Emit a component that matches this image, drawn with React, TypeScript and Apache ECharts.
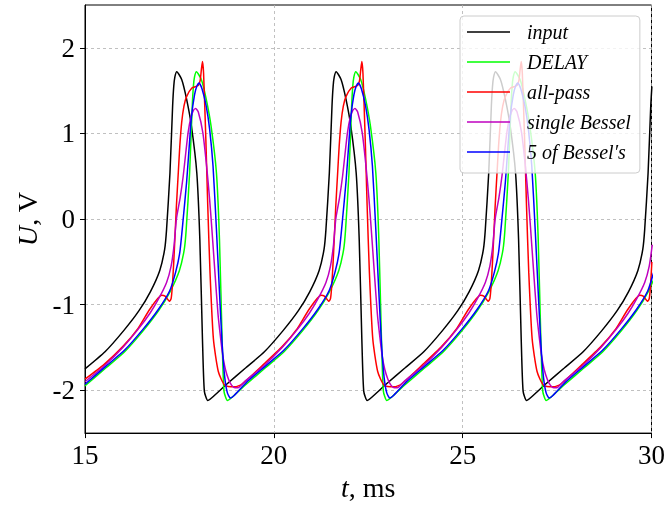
import React, { useEffect, useRef } from 'react';
import * as echarts from 'echarts';

const seriesNames = ['input', 'DELAY', 'all-pass', 'single Bessel', '5 of Bessel′s'];
const seriesColors = ['#000000', '#00ff00', '#ff0000', '#bf00bf', '#0000ff'];
const yLabelValues = [-2, -1, 0, 1, 2];

// t (ms), U (V)
const inputData: [number, number][] = [
  [15.0, -1.75], [15.53, -1.55], [16.03, -1.30], [16.43, -1.07], [16.73, -0.85], [16.98, -0.60], [17.11, -0.35], [17.16, -0.12],
  [17.25, 0.54], [17.32, 1.32], [17.35, 1.55], [17.38, 1.66], [17.43, 1.72], [17.56, 1.63], [17.69, 1.40], [17.82, 1.08], [17.96, 0.54],
  [18.04, -0.23], [18.11, -1.40], [18.16, -2.01], [18.25, -2.12], [18.35, -2.09], [18.75, -1.93], [19.25, -1.74], [19.75, -1.55],
  [20.25, -1.30], [20.65, -1.07], [20.95, -0.85], [21.20, -0.60], [21.33, -0.35], [21.38, -0.12], [21.47, 0.54], [21.54, 1.32],
  [21.57, 1.55], [21.60, 1.66], [21.65, 1.72], [21.78, 1.63], [21.91, 1.40], [22.04, 1.08], [22.18, 0.54], [22.26, -0.23], [22.33, -1.40],
  [22.38, -2.01], [22.47, -2.12], [22.57, -2.09], [22.97, -1.93], [23.47, -1.74], [23.97, -1.55], [24.47, -1.30], [24.87, -1.07],
  [25.17, -0.85], [25.42, -0.60], [25.55, -0.35], [25.60, -0.12], [25.69, 0.54], [25.76, 1.32], [25.79, 1.55], [25.82, 1.66],
  [25.87, 1.72], [26.00, 1.63], [26.13, 1.40], [26.26, 1.08], [26.40, 0.54], [26.48, -0.23], [26.55, -1.40], [26.60, -2.01], [26.69, -2.12],
  [26.79, -2.09], [27.19, -1.93], [27.69, -1.74], [28.19, -1.55], [28.69, -1.30], [29.09, -1.07], [29.39, -0.85], [29.64, -0.60],
  [29.77, -0.35], [29.82, -0.12], [29.91, 0.54], [29.98, 1.32], [30.01, 1.55],
];

const delayData: [number, number][] = [
  [15.0, -1.95], [15.05, -1.93], [15.55, -1.74], [16.05, -1.55], [16.55, -1.30], [16.95, -1.07], [17.25, -0.85], [17.50, -0.60],
  [17.63, -0.35], [17.68, -0.12], [17.77, 0.54], [17.84, 1.32], [17.87, 1.55], [17.90, 1.66], [17.95, 1.72], [18.08, 1.63], [18.21, 1.40],
  [18.34, 1.08], [18.48, 0.54], [18.56, -0.23], [18.63, -1.40], [18.68, -2.01], [18.77, -2.12], [18.87, -2.09], [19.27, -1.93],
  [19.77, -1.74], [20.27, -1.55], [20.77, -1.30], [21.17, -1.07], [21.47, -0.85], [21.72, -0.60], [21.85, -0.35], [21.90, -0.12],
  [21.99, 0.54], [22.06, 1.32], [22.09, 1.55], [22.12, 1.66], [22.17, 1.72], [22.30, 1.63], [22.43, 1.40], [22.56, 1.08], [22.70, 0.54],
  [22.78, -0.23], [22.85, -1.40], [22.90, -2.01], [22.99, -2.12], [23.09, -2.09], [23.49, -1.93], [23.99, -1.74], [24.49, -1.55],
  [24.99, -1.30], [25.39, -1.07], [25.69, -0.85], [25.94, -0.60], [26.07, -0.35], [26.12, -0.12], [26.21, 0.54], [26.28, 1.32],
  [26.31, 1.55], [26.34, 1.66], [26.39, 1.72], [26.52, 1.63], [26.65, 1.40], [26.78, 1.08], [26.92, 0.54], [27.00, -0.23], [27.07, -1.40],
  [27.12, -2.01], [27.21, -2.12], [27.31, -2.09], [27.71, -1.93], [28.21, -1.74], [28.71, -1.55], [29.21, -1.30], [29.61, -1.07],
  [29.91, -0.85], [30.16, -0.60],
];

const allPassData: [number, number][] = [
  [15.0, -1.87], [15.5, -1.70], [16.0, -1.49], [16.4, -1.28], [16.72, -1.05], [17.03, -0.89], [17.12, -0.90], [17.24, -0.96],
  [17.28, -0.93], [17.31, -0.80], [17.35, -0.50], [17.38, -0.23], [17.42, 0.15], [17.47, 0.54], [17.51, 0.85], [17.56, 1.13],
  [17.62, 1.32], [17.69, 1.43], [17.83, 1.53], [18.00, 1.56], [18.05, 1.62], [18.08, 1.74], [18.11, 1.84], [18.14, 1.70], [18.20, 0.93],
  [18.25, 0.16], [18.31, -0.62], [18.40, -1.40], [18.53, -1.78], [18.70, -1.94], [18.97, -1.96], [19.15, -1.93], [19.72, -1.70],
  [20.22, -1.49], [20.62, -1.28], [20.94, -1.05], [21.25, -0.89], [21.34, -0.90], [21.46, -0.96], [21.50, -0.93], [21.53, -0.80],
  [21.57, -0.50], [21.60, -0.23], [21.64, 0.15], [21.69, 0.54], [21.73, 0.85], [21.78, 1.13], [21.84, 1.32], [21.91, 1.43],
  [22.05, 1.53], [22.22, 1.56], [22.27, 1.62], [22.30, 1.74], [22.33, 1.84], [22.36, 1.70], [22.42, 0.93], [22.47, 0.16], [22.53, -0.62],
  [22.62, -1.40], [22.75, -1.78], [22.92, -1.94], [23.19, -1.96], [23.37, -1.93], [23.94, -1.70], [24.44, -1.49], [24.84, -1.28],
  [25.16, -1.05], [25.47, -0.89], [25.56, -0.90], [25.68, -0.96], [25.72, -0.93], [25.75, -0.80], [25.79, -0.50], [25.82, -0.23],
  [25.86, 0.15], [25.91, 0.54], [25.95, 0.85], [26.00, 1.13], [26.06, 1.32], [26.13, 1.43], [26.27, 1.53], [26.44, 1.56], [26.49, 1.62],
  [26.52, 1.74], [26.55, 1.84], [26.58, 1.70], [26.64, 0.93], [26.69, 0.16], [26.75, -0.62], [26.84, -1.40], [26.97, -1.78],
  [27.14, -1.94], [27.41, -1.96], [27.59, -1.93], [28.16, -1.70], [28.66, -1.49], [29.06, -1.28], [29.38, -1.05], [29.69, -0.89],
  [29.78, -0.90], [29.90, -0.96], [29.94, -0.93], [29.97, -0.80], [30.01, -0.50],
];

const singleBesselData: [number, number][] = [
  [15.0, -1.90], [15.5, -1.72], [16.0, -1.50], [16.42, -1.28], [16.72, -1.10], [16.95, -0.93], [17.16, -0.74], [17.28, -0.55],
  [17.36, -0.30], [17.42, 0.0], [17.52, 0.25], [17.60, 0.50], [17.67, 0.78], [17.73, 1.01], [17.80, 1.18], [17.87, 1.27], [17.93, 1.29],
  [18.00, 1.25], [18.12, 1.01], [18.22, 0.62], [18.30, 0.23], [18.36, -0.12], [18.44, -0.62], [18.52, -1.10], [18.58, -1.35],
  [18.65, -1.60], [18.72, -1.76], [18.80, -1.87], [18.88, -1.94], [18.97, -1.97], [19.05, -1.97], [19.22, -1.90], [19.72, -1.72],
  [20.22, -1.50], [20.64, -1.28], [20.94, -1.10], [21.17, -0.93], [21.38, -0.74], [21.50, -0.55], [21.58, -0.30], [21.64, 0.0],
  [21.74, 0.25], [21.82, 0.50], [21.89, 0.78], [21.95, 1.01], [22.02, 1.18], [22.09, 1.27], [22.15, 1.29], [22.22, 1.25], [22.34, 1.01],
  [22.44, 0.62], [22.52, 0.23], [22.58, -0.12], [22.66, -0.62], [22.74, -1.10], [22.80, -1.35], [22.87, -1.60], [22.94, -1.76],
  [23.02, -1.87], [23.10, -1.94], [23.19, -1.97], [23.27, -1.97], [23.44, -1.90], [23.94, -1.72], [24.44, -1.50], [24.86, -1.28],
  [25.16, -1.10], [25.39, -0.93], [25.60, -0.74], [25.72, -0.55], [25.80, -0.30], [25.86, 0.0], [25.96, 0.25], [26.04, 0.50],
  [26.11, 0.78], [26.17, 1.01], [26.24, 1.18], [26.31, 1.27], [26.37, 1.29], [26.44, 1.25], [26.56, 1.01], [26.66, 0.62], [26.74, 0.23],
  [26.80, -0.12], [26.88, -0.62], [26.96, -1.10], [27.02, -1.35], [27.09, -1.60], [27.16, -1.76], [27.24, -1.87], [27.32, -1.94],
  [27.41, -1.97], [27.49, -1.97], [27.66, -1.90], [28.16, -1.72], [28.66, -1.50], [29.08, -1.28], [29.38, -1.10], [29.61, -0.93],
  [29.82, -0.74], [29.94, -0.55], [30.02, -0.30],
];

const fiveBesselData: [number, number][] = [
  [15.0, -1.93], [15.55, -1.72], [16.05, -1.53], [16.55, -1.28], [16.95, -1.05], [17.24, -0.84], [17.40, -0.62], [17.51, -0.39],
  [17.60, 0.0], [17.69, 0.43], [17.76, 0.85], [17.82, 1.20], [17.90, 1.45], [17.96, 1.55], [18.02, 1.59], [18.10, 1.52], [18.21, 1.32],
  [18.30, 1.05], [18.39, 0.62], [18.48, -0.12], [18.56, -0.85], [18.63, -1.45], [18.70, -1.85], [18.77, -2.03], [18.85, -2.09],
  [18.95, -2.06], [19.27, -1.91], [19.77, -1.72], [20.27, -1.53], [20.77, -1.28], [21.17, -1.05], [21.46, -0.84], [21.62, -0.62],
  [21.73, -0.39], [21.82, 0.0], [21.91, 0.43], [21.98, 0.85], [22.04, 1.20], [22.12, 1.45], [22.18, 1.55], [22.24, 1.59], [22.32, 1.52],
  [22.43, 1.32], [22.52, 1.05], [22.61, 0.62], [22.70, -0.12], [22.78, -0.85], [22.85, -1.45], [22.92, -1.85], [22.99, -2.03],
  [23.07, -2.09], [23.17, -2.06], [23.49, -1.91], [23.99, -1.72], [24.49, -1.53], [24.99, -1.28], [25.39, -1.05], [25.68, -0.84],
  [25.84, -0.62], [25.95, -0.39], [26.04, 0.0], [26.13, 0.43], [26.20, 0.85], [26.26, 1.20], [26.34, 1.45], [26.40, 1.55], [26.46, 1.59],
  [26.54, 1.52], [26.65, 1.32], [26.74, 1.05], [26.83, 0.62], [26.92, -0.12], [27.00, -0.85], [27.07, -1.45], [27.14, -1.85],
  [27.21, -2.03], [27.29, -2.09], [27.39, -2.06], [27.71, -1.91], [28.21, -1.72], [28.71, -1.53], [29.21, -1.28], [29.61, -1.05],
  [29.90, -0.84], [30.06, -0.62],
];

const allData = [inputData, delayData, allPassData, singleBesselData, fiveBesselData];

const FONT = "'Liberation Serif', 'DejaVu Serif', serif";

export default function App() {
  const ref = useRef<HTMLDivElement>(null);
  useEffect(() => {
    const chart = echarts.init(ref.current!, null, { renderer: 'svg' });
    chart.setOption({
      animation: false,
      grid: {
        left: 85, right: 15, top: 5, bottom: 71,
        show: true, borderColor: '#000', borderWidth: 1, backgroundColor: 'transparent',
      },
      legend: {
        orient: 'vertical',
        left: 460, top: 16,
        icon: 'rect',
        itemWidth: 43, itemHeight: 1.6, itemGap: 10,
        padding: [6, 9, 11, 7],
        backgroundColor: 'rgba(255,255,255,0.8)',
        borderColor: '#cccccc', borderWidth: 1, borderRadius: 4,
        textStyle: { fontFamily: FONT, fontStyle: 'italic', fontSize: 20, color: '#000', padding: [0, 0, 0, 12] },
        data: seriesNames,
      },
      xAxis: {
        type: 'value', min: 15, max: 30, interval: 5,
        name: '{i|t}, ms', nameLocation: 'middle', nameGap: 36,
        nameTextStyle: { fontFamily: FONT, fontSize: 28, color: '#000', rich: { i: { fontFamily: FONT, fontSize: 28, fontStyle: 'italic', color: '#000' } } },
        axisLine: { show: true, onZero: false, lineStyle: { color: '#000', width: 1 } },
        axisTick: { show: true, inside: false, length: 5, lineStyle: { color: '#000' } },
        axisLabel: { fontFamily: FONT, fontSize: 27, color: '#000', margin: 8 },
        splitLine: { show: true, lineStyle: { color: '#b0b0b0', type: [3, 3], width: 0.8 } },
      },
      yAxis: {
        type: 'value', min: -2.5, max: 2.5, splitNumber: 5,
        name: '{i|U}, V', nameLocation: 'middle', nameGap: 40, nameRotate: 90,
        nameTextStyle: { fontFamily: FONT, fontSize: 28, color: '#000', rich: { i: { fontFamily: FONT, fontSize: 28, fontStyle: 'italic', color: '#000' } } },
        axisLine: { show: true, onZero: false, lineStyle: { color: '#000', width: 1 } },
        axisTick: { show: true, inside: false, length: 5, lineStyle: { color: '#000' }, customValues: yLabelValues },
        axisLabel: {
          fontFamily: FONT, fontSize: 27, color: '#000', margin: 10,
          formatter: (v: number) => (Number.isInteger(v) ? String(v) : ''),
        },
        splitLine: { show: true, lineStyle: { color: '#b0b0b0', type: [3, 3], width: 0.8 } },
      },
      series: seriesNames.map((name, i) => ({
        name,
        type: 'line',
        data: allData[i],
        symbol: 'none',
        showSymbol: false,
        clip: true,
        smooth: 0.2,
        color: seriesColors[i],
        lineStyle: { color: seriesColors[i], width: 1.5 },
        emphasis: { disabled: true },
      })),
    });
    return () => chart.dispose();
  }, []);
  return <div ref={ref} style={{ position: 'fixed', left: 0, top: 0, width: 668, height: 506 }} />;
}
